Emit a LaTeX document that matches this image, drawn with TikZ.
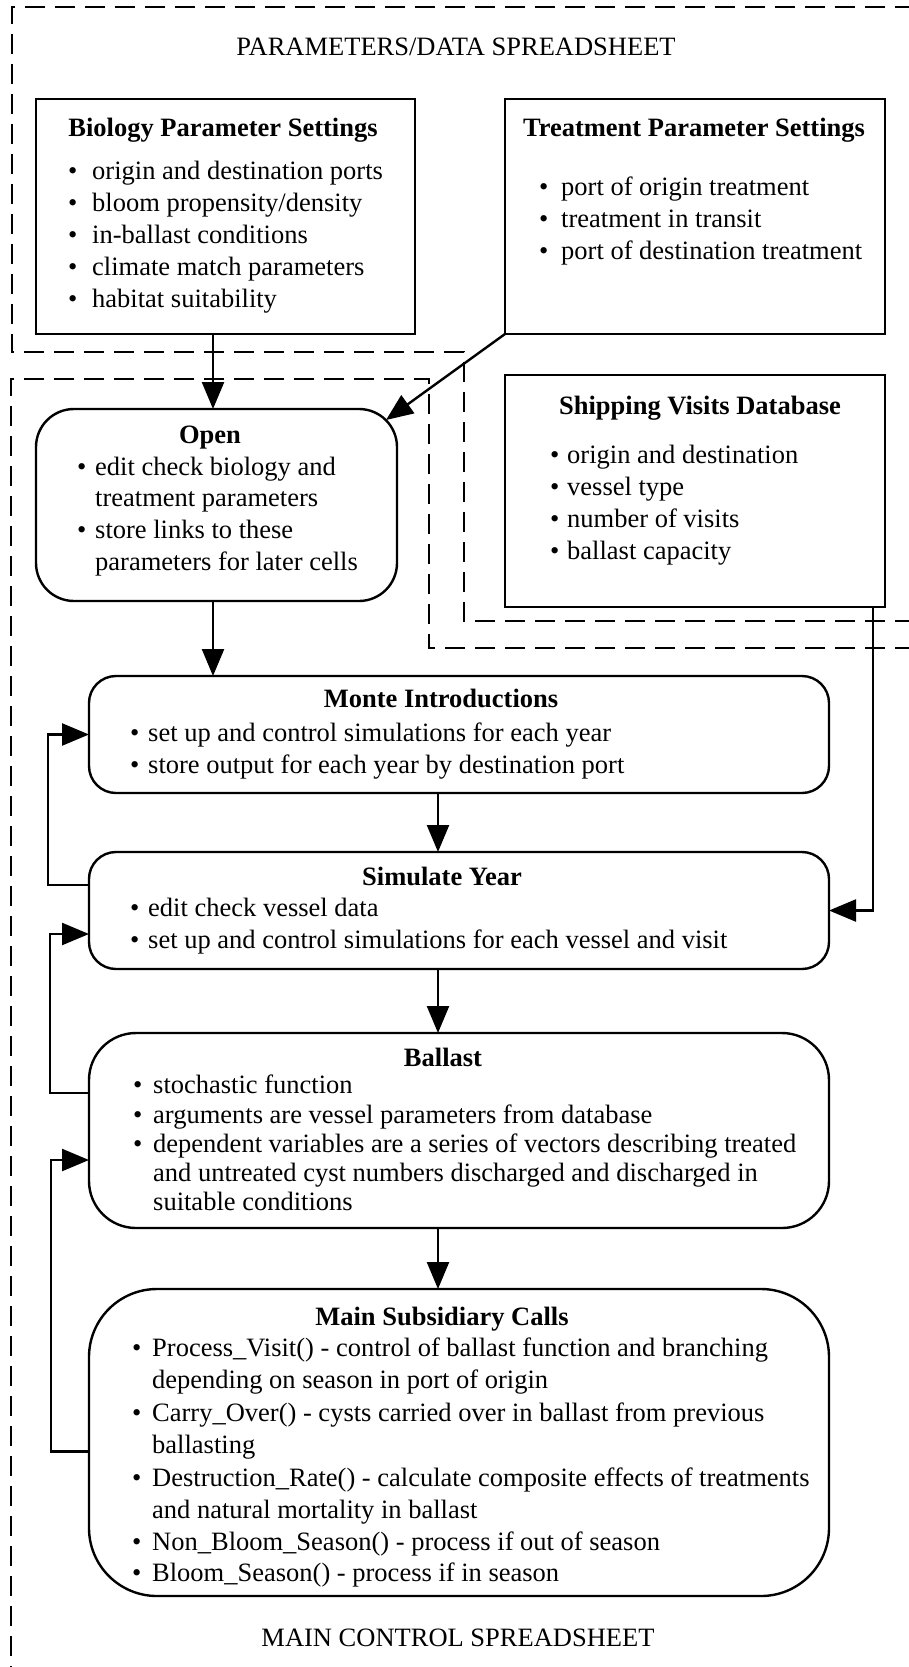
\documentclass[tikz,border=0pt]{standalone}
\usepackage{fontspec}
\setmainfont{Liberation Serif}
\usetikzlibrary{arrows.meta,calc}
\newcommand\bodyfont{\fontsize{26.5}{32}\selectfont}
% bullet item: name, bullet x, text x, y, text
\newcommand\bitem[5]{%
  \node[txt] (#1b) at (#2,#4) {\textbullet};
  \node[txt] (#1) at (#3,#4) {#5};}
\tikzset{
  box/.style={draw, line width=2.4pt, inner sep=0pt, outer sep=0pt},
  rbox/.style={box, rounded corners=#1},
  zone/.style={line width=2.4pt, dash pattern=on 20pt off 10pt},
  link/.style={line width=2.4pt, -{Triangle[length=27pt,width=22pt]}},
  txt/.style={anchor=mid west, inner sep=0pt, yshift=-6.5pt, font=\bodyfont},
  ttl/.style={anchor=mid, inner sep=0pt, yshift=-6.5pt, font=\bodyfont\bfseries},
  lbl/.style={anchor=mid, inner sep=0pt, yshift=-6.5pt, font=\bodyfont},
}
\begin{document}
\begin{tikzpicture}[x=1pt,y=-1pt]
\useasboundingbox (0,0) rectangle (909,1667);

% spreadsheet zones
\draw[zone] (915,7) -- (12,7) -- (12,352) -- (464,352) -- (464,621) -- (915,621);
\draw[zone] (915,648) -- (429,648) -- (429,379) -- (11,379) -- (11,1675);
\node[lbl] (ptitle) at (456,47) {PARAMETERS/DATA SPREADSHEET};
\node[lbl] (mtitle) at (458,1638) {MAIN CONTROL SPREADSHEET};

% parameter and data boxes
\node[box, minimum width=379pt, minimum height=235pt] (bio) at (225.5,216.5) {};
\node[box, minimum width=380pt, minimum height=235pt] (treat) at (695,216.5) {};
\node[box, minimum width=380pt, minimum height=232pt] (ship) at (695,491) {};

% control boxes
\node[rbox=38pt, minimum width=361pt, minimum height=192pt] (open) at (216.5,505) {};
\node[rbox=27pt, minimum width=740pt, minimum height=117pt] (mon) at (459,734.5) {};
\node[rbox=27pt, minimum width=740pt, minimum height=117pt] (sim) at (459,910.5) {};
\node[rbox=47pt, minimum width=740pt, minimum height=195pt] (bal) at (459,1130.5) {};
\node[rbox=68pt, minimum width=740pt, minimum height=307pt] (main) at (459,1442.5) {};

% texts
\node[ttl] (biot) at (223,128) {Biology Parameter Settings};
\bitem{bio1}{68}{92}{171}{origin and destination ports}
\bitem{bio2}{68}{92}{203}{bloom propensity/density}
\bitem{bio3}{68}{92}{235}{in-ballast conditions}
\bitem{bio4}{68}{92}{267}{climate match parameters}
\bitem{bio5}{68}{92}{299}{habitat suitability}

\node[ttl] (treatt) at (694,128) {Treatment Parameter Settings};
\bitem{tr1}{539}{561}{187}{port of origin treatment}
\bitem{tr2}{539}{561}{219}{treatment in transit}
\bitem{tr3}{539}{561}{251}{port of destination treatment}

\node[ttl] (shipt) at (700,406) {Shipping Visits Database};
\bitem{sh1}{550}{567}{455}{origin and destination}
\bitem{sh2}{550}{567}{487}{vessel type}
\bitem{sh3}{550}{567}{519}{number of visits}
\bitem{sh4}{550}{567}{551}{ballast capacity}

\node[ttl] (opent) at (210,435) {Open};
\bitem{op1}{77}{95}{467}{edit check biology and}
\node[txt] (op1c) at (95,498) {treatment parameters};
\bitem{op2}{77}{95}{530}{store links to these}
\node[txt] (op2c) at (95,562) {parameters for later cells};

\node[ttl] (mont) at (441,699) {Monte Introductions};
\bitem{mo1}{130}{148}{733}{set up and control simulations for each year}
\bitem{mo2}{130}{148}{765}{store output for each year by destination port}

\node[ttl] (simt) at (442,877) {Simulate Year};
\bitem{si1}{130}{148}{908}{edit check vessel data}
\bitem{si2}{130}{148}{940}{set up and control simulations for each vessel and visit}

\node[ttl] (balt) at (443,1058) {Ballast};
\bitem{ba1}{133}{153}{1085}{stochastic function}
\bitem{ba2}{133}{153}{1115}{arguments are vessel parameters from database}
\bitem{ba3}{133}{153}{1144}{dependent variables are a series of vectors describing treated}
\node[txt] (ba3c) at (153,1173) {and untreated cyst numbers discharged and discharged in};
\node[txt] (ba3d) at (153,1202) {suitable conditions};

\node[ttl] (maint) at (442,1317) {Main Subsidiary Calls};
\bitem{ma1}{132}{152}{1348}{Process\_Visit() - control of ballast function and branching}
\node[txt] (ma1c) at (152,1380) {depending on season in port of origin};
\bitem{ma2}{132}{152}{1413}{Carry\_Over() - cysts carried over in ballast from previous}
\node[txt] (ma2c) at (152,1445) {ballasting};
\bitem{ma3}{132}{152}{1478}{Destruction\_Rate() - calculate composite effects of treatments}
\node[txt] (ma3c) at (152,1510) {and natural mortality in ballast};
\bitem{ma4}{132}{152}{1542}{Non\_Bloom\_Season() - process if out of season}
\bitem{ma5}{132}{152}{1573}{Bloom\_Season() - process if in season}

% connectors
\draw[link] ([xshift=-12.5pt]bio.south) -- ([xshift=-12.5pt]bio.south |- open.north);
\draw[link] (treat.south west) -- ($(open.north east)+(-11,11)$);
\draw[link] ([xshift=-3.5pt]open.south) -- ([xshift=-3.5pt]open.south |- mon.north);
\draw[link] ([xshift=-21pt]mon.south) -- ([xshift=-21pt]sim.north);
\draw[link] ([xshift=-21pt]sim.south) -- ([xshift=-21pt]bal.north);
\draw[link] ([xshift=-21pt]bal.south) -- ([xshift=-21pt]main.north);
\draw[link] ($(sim.west)+(0,-25.5)$) -| ($(mon.west)+(-41,0)$) -- (mon.west);
\draw[link] ($(bal.west)+(0,-37.5)$) -| ($(sim.west)+(-39,23.5)$) -- ($(sim.west)+(0,23.5)$);
\draw[link] ($(main.west)+(0,9)$) -| ($(bal.west)+(-38,29.5)$) -- ($(bal.west)+(0,29.5)$);
\draw[link] ([xshift=178pt]ship.south) |- (sim.east);
\end{tikzpicture}
\end{document}
